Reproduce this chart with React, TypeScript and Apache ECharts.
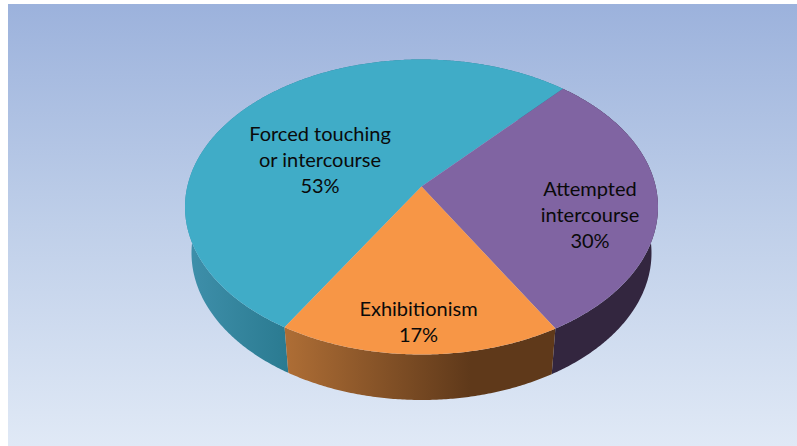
import React, { useEffect, useRef } from "react";
import * as echarts from "echarts";

// Share of each incident type, clockwise from the first slice.
const categories = ["Forced touching\nor intercourse", "Attempted\nintercourse", "Exhibitionism"];
const shares = [53, 30, 17];

const WIDTH = 797;
const HEIGHT = 446;
const FIRST_SLICE_DEG = 211;
const TILT = 0.139; // perspective shift of the hub towards the far rim

// Outline ellipses of the tilted disc's top and bottom faces.
const topFace = { cx: 421.5, cy: 207, rx: 236.5, ry: 147.5 };
const bottomFace = { cx: 421.5, cy: 253, rx: 230, ry: 147 };

const faceColors = ["#40ACC7", "#8064A2", "#F79646"];
const wallStops = [
  ["#3F90AB", "#2A7A90"],
  ["#33263F", "#33263F"],
  ["#AD6D35", "#5F391A"],
];
const wallRange = [
  [185, 290],
  [550, 658],
  [288, 470],
];
const labelCenters = [
  [320, 159],
  [590, 213.5],
  [418.5, 321],
];

type Face = { cx: number; cy: number; rx: number; ry: number };

// Projects a clockwise-from-top disc angle onto a face, keeping the hub off-centre.
function rimPoint(face: Face, deg: number): number[] {
  const a = (deg * Math.PI) / 180;
  const u0 = Math.sin(a);
  const v0 = Math.cos(a);
  const w = 1 + v0 * TILT;
  const v = (v0 + TILT) / w;
  const u = (u0 * Math.sqrt(1 - TILT * TILT)) / w;
  return [face.cx + u * face.rx, face.cy - v * face.ry];
}

function arcPoints(face: Face, from: number, to: number): number[][] {
  const steps = Math.max(2, Math.ceil((to - from) * 2));
  const pts: number[][] = [];
  for (let i = 0; i <= steps; i++) pts.push(rimPoint(face, from + ((to - from) * i) / steps));
  return pts;
}

const total = shares.reduce((s, v) => s + v, 0);

function renderSlice(params: any, api: any) {
  const i = params.dataIndex;
  const before = shares.slice(0, i).reduce((s, v) => s + v, 0);
  const from = FIRST_SLICE_DEG + (before / total) * 360;
  const to = from + (api.value(0) / total) * 360;
  const topArc = arcPoints(topFace, from, to);
  const bottomArc = arcPoints(bottomFace, from, to);
  const hub = [topFace.cx, topFace.cy - TILT * topFace.ry];
  return {
    type: "group",
    children: [
      {
        type: "polygon",
        z2: 1,
        shape: { points: topArc.concat(bottomArc.slice().reverse()) },
        style: {
          fill: new echarts.graphic.LinearGradient(
            wallRange[i][0], 0, wallRange[i][1], 0,
            [
              { offset: 0, color: wallStops[i][0] },
              { offset: 1, color: wallStops[i][1] },
            ],
            true
          ),
        },
      },
      {
        type: "polygon",
        z2: 2 + (i === 2 ? 1 : 0),
        shape: { points: [hub].concat(topArc) },
        style: { fill: faceColors[i] },
      },
      {
        type: "text",
        z2: 5,
        style: {
          text: `${categories[i]}\n${api.value(0)}%`,
          x: labelCenters[i][0],
          y: labelCenters[i][1],
          align: "center",
          verticalAlign: "middle",
          fontFamily: "Lato",
          fontSize: 20,
          lineHeight: 26,
          fill: "#0a0a0a",
        },
      },
    ],
  };
}

export default function App() {
  const ref = useRef<HTMLDivElement>(null);
  useEffect(() => {
    const chart = echarts.init(ref.current, undefined, { renderer: "svg" });
    chart.setOption({
      animation: false,
      backgroundColor: "#ffffff",
      graphic: [
        {
          type: "rect",
          shape: { x: 8, y: 4, width: WIDTH - 8, height: HEIGHT - 4 },
          style: {
            fill: new echarts.graphic.LinearGradient(0, 0, 0, 1, [
              { offset: 0, color: "#9CB2DC" },
              { offset: 0.5, color: "#BFCFE9" },
              { offset: 1, color: "#E0E9F6" },
            ]),
          },
          silent: true,
        },
      ],
      series: [
        {
          type: "custom",
          coordinateSystem: "none",
          renderItem: renderSlice,
          data: shares,
          silent: true,
        },
      ],
    });
    return () => chart.dispose();
  }, []);
  return (
    <div
      ref={ref}
      style={{ position: "fixed", left: 0, top: 0, width: WIDTH, height: HEIGHT }}
    />
  );
}
